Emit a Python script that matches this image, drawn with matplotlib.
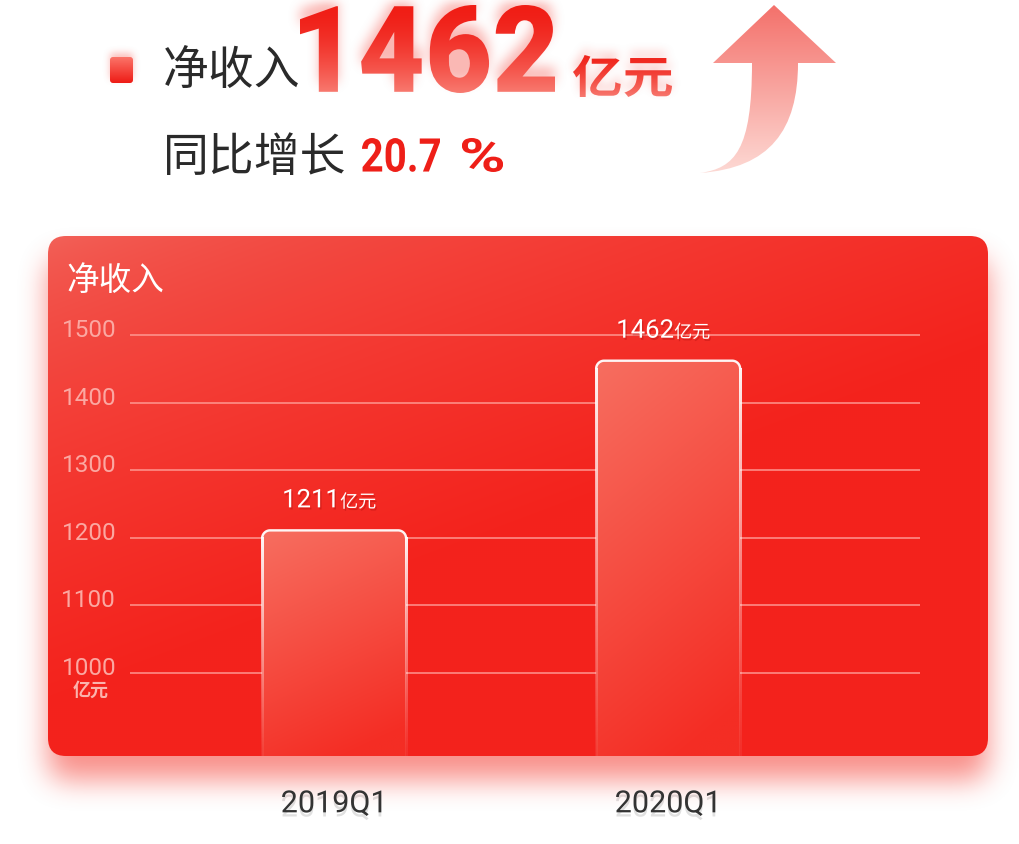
import numpy as np
import matplotlib
matplotlib.use("Agg")
import matplotlib.pyplot as plt
import matplotlib.patheffects as pe
from matplotlib.patches import FancyBboxPatch, PathPatch
from matplotlib.path import Path
from matplotlib.lines import Line2D
from matplotlib.colors import to_rgb
from matplotlib.transforms import IdentityTransform, Affine2D
from matplotlib.textpath import TextPath
from matplotlib.font_manager import FontProperties

plt.rcParams['font.family'] = ['Noto Sans CJK SC', 'DejaVu Sans']

# ---- data ----
quarters = ["2019Q1", "2020Q1"]
revenue = [1211, 1462]
y_ticks = [1000, 1100, 1200, 1300, 1400, 1500]
headline_value = "1462"
growth_text = "20.7%"
unit = "亿元"
metric = "净收入"

W, H = 1020, 844
fig = plt.figure(figsize=(W / 100, H / 100), dpi=100)
fig.patch.set_facecolor("white")
bg = fig.add_axes([0, 0, 1, 1], zorder=0)
bg.set_xlim(0, W)
bg.set_ylim(0, H)
bg.axis("off")


def Y(y):
    # picture rows (top origin) -> bg axes units
    return H - y


def fill_gradient(ax, extent, t, c0, c1, clip, zorder, transform=None, alpha=None):
    c0 = np.array(to_rgb(c0))
    c1 = np.array(to_rgb(c1))
    img = c0 + (c1 - c0) * np.clip(t, 0, 1)[..., None]
    if alpha is not None:
        img = np.dstack([img, alpha])
    kw = {} if transform is None else {"transform": transform}
    im = ax.imshow(img, extent=extent, origin="upper", aspect="auto",
                   interpolation="bilinear", zorder=zorder, **kw)
    if clip is not None:
        im.set_clip_path(clip)
    return im


def box_blur(a, r, axis):
    pad = [(0, 0), (0, 0)]
    pad[axis] = (r + 1, r)
    c = np.cumsum(np.pad(a, pad), axis=axis)
    n = a.shape[axis]
    hi = np.take(c, np.arange(2 * r + 1, 2 * r + 1 + n), axis=axis)
    lo = np.take(c, np.arange(0, n), axis=axis)
    return (hi - lo) / (2 * r + 1)


def blur(a, r):
    for _ in range(3):
        a = box_blur(box_blur(a, r, 0), r, 1)
    return a


def soft_shadow(mask, color, alpha, r, zorder):
    a = blur(mask.astype(float), r) * alpha
    rgba = np.zeros((H, W, 4))
    rgba[..., :3] = to_rgb(color)
    rgba[..., 3] = np.clip(a, 0, 1)
    bg.imshow(rgba, extent=(0, W, 0, H), origin="upper", aspect="auto",
              interpolation="bilinear", zorder=zorder)


def path_mask(path, dy=0):
    xs, ys = np.meshgrid(np.arange(W) + 0.5, np.arange(H) + 0.5)
    pts = np.column_stack([xs.ravel(), (H - ys - dy).ravel()])
    return path.contains_points(pts).reshape(H, W)


def fitted_text(s, prop, x0, x1, ytop, ybot):
    tp = TextPath((0, 0), s, size=100, prop=prop)
    ex = tp.get_extents()
    tr = (Affine2D().translate(-ex.x0, -ex.y0)
          .scale((x1 - x0) / ex.width, (ybot - ytop) / ex.height)
          .translate(x0, Y(ybot)))
    return tr.transform_path(tp)


# ---- card with glow ----
cx0, cx1, cy0, cy1, rad = 48, 988, 236, 756, 18
card = FancyBboxPatch((cx0, Y(cy1)), cx1 - cx0, cy1 - cy0,
                      boxstyle=f"round,pad=0,rounding_size={rad}",
                      fc="none", ec="none")
bg.add_patch(card)
xs, ys = np.meshgrid(np.arange(W) + 0.5, np.arange(H) + 0.5)
dx = np.maximum(np.maximum(cx0 + rad - xs, xs - (cx1 - rad)), 0)
dyy = np.maximum(np.maximum(cy0 + 22 + rad - ys, ys - (cy1 + 24 - rad)), 0)
card_mask = np.hypot(dx, dyy) <= rad
soft_shadow(card_mask, "#f5463c", 0.6, 13, zorder=0.5)

gy, gx = np.mgrid[0:1:260j, 0:1:470j]
t_card = np.clip(0.75 * gx + 1.1 * gy, 0, 1) ** 0.6
fill_gradient(bg, (cx0, cx1, Y(cy1), Y(cy0)), t_card, "#f2645b", "#f4221c",
              card, zorder=1)

bg.text(66, Y(281), metric, fontsize=23.5, fontweight="medium", color="white",
        va="center", zorder=3)
bg.text(91, Y(690), unit, fontsize=13, fontweight="bold", color="#fbb3ad",
        ha="center", va="center", zorder=3)

# ---- header ----
sq = FancyBboxPatch((110, Y(83)), 23, 26, boxstyle="round,pad=0,rounding_size=3",
                    fc="none", ec="none")
bg.add_patch(sq)
sq_mask = path_mask(sq.get_transform().transform_path(sq.get_path()), dy=4)
soft_shadow(sq_mask, "#f5463c", 0.35, 3, zorder=0.6)
fill_gradient(bg, (110, 133, Y(83), Y(57)), np.linspace(0, 1, 40)[:, None] * np.ones((1, 10)),
              "#fb7368", "#ee1c16", sq, zorder=2)

bg.text(163, Y(71), metric, fontsize=33, color="#2a2a2a", va="center", zorder=3)
bg.text(163, Y(158), "同比增长", fontsize=33, color="#2a2a2a", va="center", zorder=3)

bold_digits = FontProperties(family="Roboto", weight="bold")
for piece, (gx0, gx1) in zip([growth_text[:-1], growth_text[-1]], [(362, 440), (462, 503)]):
    bg.add_patch(PathPatch(fitted_text(piece, bold_digits, gx0, gx1, 138, 172),
                           fc="#ee1f18", ec="none", zorder=3))

big_path = fitted_text(headline_value, FontProperties(family="Roboto", weight="black"),
                       300, 555, 5, 93)
soft_shadow(path_mask(big_path, dy=10), "#f56058", 0.45, 5, zorder=0.7)
big = PathPatch(big_path, fc="none", ec="none")
bg.add_patch(big)
tv = np.linspace(0, 1, 120)[:, None] * np.ones((1, 10))
fill_gradient(bg, (300, 555, Y(93), Y(5)), tv ** 1.6, "#f01d15", "#f87a70", big, zorder=2)

unit_path = fitted_text(unit, FontProperties(family="Noto Sans CJK SC", weight="bold"),
                        573, 672, 55, 97)
soft_shadow(path_mask(unit_path, dy=6), "#f56058", 0.35, 4, zorder=0.7)
up = PathPatch(unit_path, fc="none", ec="none")
bg.add_patch(up)
fill_gradient(bg, (573, 672, Y(97), Y(55)), tv ** 1.4, "#f0251c", "#f7786f", up, zorder=2)

# curved arrow
arrow_pts = [(774, 5), (836, 63), (798, 63), (798, 130), (770, 168), (700, 173),
             (735, 168), (752, 150), (752, 63), (713, 63), (774, 5)]
arrow_codes = [Path.MOVETO, Path.LINETO, Path.LINETO, Path.CURVE4, Path.CURVE4,
               Path.CURVE4, Path.CURVE4, Path.CURVE4, Path.CURVE4, Path.LINETO,
               Path.CLOSEPOLY]
arrow = PathPatch(Path([(x, Y(y)) for x, y in arrow_pts], arrow_codes),
                  fc="none", ec="none")
bg.add_patch(arrow)
fill_gradient(bg, (698, 838, Y(175), Y(3)), tv, "#f4706a", "#fddad5", arrow, zorder=2)

# ---- chart ----
px_per_unit = 0.676
ax = fig.add_axes([130 / W, (H - 756) / H, 790 / W, 456 / H], zorder=1)
ax.patch.set_visible(False)
ax.set_xlim(-0.611, 1.754)
ax.set_ylim(1000 - (756 - 673) / px_per_unit, 1000 + (673 - 300) / px_per_unit)
for s in ax.spines.values():
    s.set_visible(False)
ax.set_axisbelow(True)
ax.grid(axis="y", color="#ff9d96", lw=1.3, alpha=0.8)
ax.set_yticks(y_ticks)
ax.set_yticklabels([str(v) for v in y_ticks], fontsize=17.5, color="#fba8a2",
                   family=["Roboto", "DejaVu Sans"], va="baseline")
ax.tick_params(axis="y", length=0, pad=10)
for lab in ax.get_yticklabels():
    lab.set_transform(lab.get_transform() + Affine2D().translate(0, -2))
x = np.arange(len(quarters))
ax.set_xticks(x)
ax.set_xticklabels(quarters, fontsize=22, color="#333333", family=["Roboto", "DejaVu Sans"])
ax.tick_params(axis="x", length=0, pad=24)
for lab in ax.get_xticklabels():
    lab.set_path_effects([pe.withSimplePatchShadow(offset=(0, -3), shadow_rgbFace="#000000",
                                                   alpha=0.12)])

bar_w = 0.431
bars = ax.bar(x, revenue, width=bar_w, color="none", zorder=3)
ybottom = ax.transAxes.transform((0, 0))[1]
r = 8
lw_px = 2.4
for rect, v, xi in zip(bars, revenue, x):
    (x0, yt), (x1, _) = ax.transData.transform([(rect.get_x(), v),
                                                (rect.get_x() + rect.get_width(), v)])
    yb = ybottom
    verts = [(x0, yb), (x0, yt - r), (x0, yt), (x0 + r, yt), (x1 - r, yt), (x1, yt),
             (x1, yt - r), (x1, yb), (x0, yb)]
    codes = [Path.MOVETO, Path.LINETO, Path.CURVE3, Path.CURVE3, Path.LINETO,
             Path.CURVE3, Path.CURVE3, Path.LINETO, Path.CLOSEPOLY]
    clip = PathPatch(Path(verts, codes), transform=IdentityTransform(), fc="none", ec="none")
    by, bx = np.mgrid[0:1:200j, 0:1:60j]
    fill_gradient(ax, (x0, x1, yb, yt), np.clip(0.85 * by + 0.25 * bx, 0, 1),
                  "#f76e60", "#f42d24", clip, zorder=3, transform=IdentityTransform())
    # white outline: solid top with rounded corners, sides fading toward the bottom
    ang = np.linspace(np.pi, 0, 40)
    top_x = np.concatenate([x0 + r + r * np.cos(ang[:20]), x1 - r + r * np.cos(ang[20:])])
    top_y = np.concatenate([yt - r + r * np.sin(ang[:20]), yt - r + r * np.sin(ang[20:])])
    ax.add_line(Line2D(top_x, top_y, color="white", alpha=0.95, lw=lw_px * 0.72,
                       transform=IdentityTransform(), zorder=4, solid_capstyle="butt"))
    fade = 0.06 + 0.89 * np.linspace(1, 0, 200) ** 1.2
    side = np.ones((200, 1, 4))
    side[:, 0, 3] = fade
    for sx in (x0, x1):
        ax.imshow(side, extent=(sx - lw_px / 2, sx + lw_px / 2, yb, yt - r + 0.5),
                  origin="upper", aspect="auto", interpolation="bilinear",
                  transform=IdentityTransform(), zorder=4)

    shadow = [pe.withSimplePatchShadow(offset=(1, -1.5), shadow_rgbFace="#8a0000", alpha=0.25)]
    ax.annotate(str(v), xy=(xi, v), xytext=(6, 23), textcoords="offset pixels",
                ha="right", va="baseline", fontsize=18.5, color="white",
                family=["Roboto", "DejaVu Sans"], zorder=5, path_effects=shadow)
    ax.annotate(unit, xy=(xi, v), xytext=(6, 23), textcoords="offset pixels",
                ha="left", va="baseline", fontsize=13, fontweight="medium", color="white",
                zorder=5, path_effects=shadow)

bg.set_xlim(0, W)
bg.set_ylim(0, H)
fig.savefig("out.png", dpi=100, facecolor="white")
